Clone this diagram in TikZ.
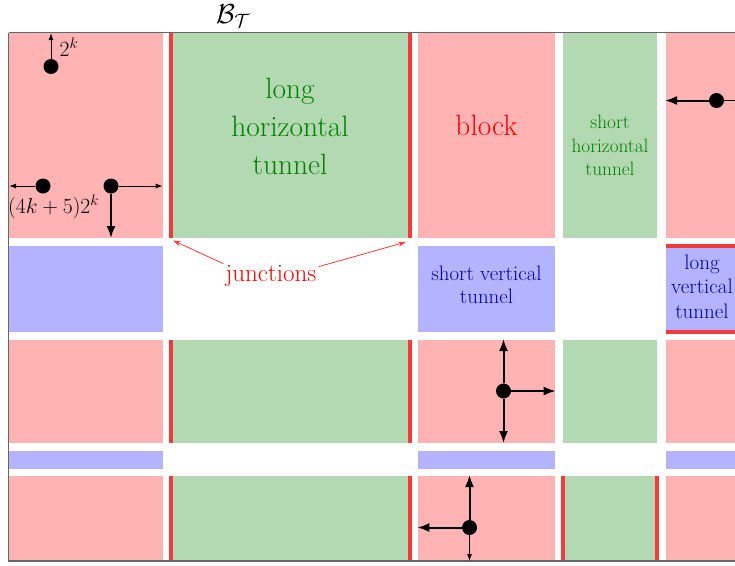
\RequirePackage{fix-cm}
\documentclass[tikz,border=0pt]{standalone}
\usetikzlibrary{arrows.meta}

\definecolor{blockfill}{RGB}{255,179,179}
\definecolor{htunfill}{RGB}{179,217,179}
\definecolor{vtunfill}{RGB}{179,179,255}
\definecolor{htuntext}{RGB}{0,128,0}
\definecolor{vtuntext}{RGB}{0,0,178}
\definecolor{juncred}{RGB}{240,60,60}

\tikzset{
  blockcell/.style={fill=blockfill},
  htuncell/.style={fill=htunfill},
  vtuncell/.style={fill=vtunfill},
  juncline/.style={fill=juncred},
  frameline/.style={draw=black!60, line width=1.2pt},
  htunlabel/.style={text=htuntext, align=center, inner sep=0pt},
  vtunlabel/.style={text=vtuntext, align=center, inner sep=0pt},
  redlabel/.style={text=red, inner sep=0pt},
  mathlabel/.style={inner sep=0pt, font=\fontsize{21.7}{26}\selectfont},
  dot/.style={circle, fill=black, inner sep=0pt, minimum size=15pt},
  thinarrow/.style={line width=1pt, -{Latex[length=7pt,width=5pt]}},
  thickarrow/.style={line width=2pt, -{Latex[length=12pt,width=9pt]}},
  juncarrow/.style={draw=juncred, line width=0.8pt, -{Stealth[length=8pt,width=5pt]}},
}

\begin{document}
\begin{tikzpicture}[x=1pt,y=-1pt]
\clip (0,0) rectangle (735,565);

% blocks
\foreach \xa/\xb in {8.5/163, 418/555, 665.5/800}{
  \foreach \ya/\yb in {32.5/238, 340/443, 476/561}{
    \fill[blockcell] (\xa,\ya) rectangle (\xb,\yb);
  }
}
% horizontal tunnels
\foreach \xa/\xb in {171/410, 563/657}{
  \foreach \ya/\yb in {32.5/238, 340/443, 476/561}{
    \fill[htuncell] (\xa,\ya) rectangle (\xb,\yb);
  }
}
% vertical tunnels
\foreach \xa/\xb in {8.5/163, 418/555, 665.5/800}{
  \foreach \ya/\yb in {246/332, 451/469}{
    \fill[vtuncell] (\xa,\ya) rectangle (\xb,\yb);
  }
}

% junctions of the long tunnels
\foreach \ya/\yb in {32.5/238, 340/443, 476/561}{
  \fill[juncline] (169,\ya) rectangle (173,\yb);
  \fill[juncline] (408,\ya) rectangle (412,\yb);
}
\fill[juncline] (561,476) rectangle (565,561);
\fill[juncline] (655,476) rectangle (659,561);
\fill[juncline] (665.5,244) rectangle (800,248);
\fill[juncline] (665.5,330) rectangle (800,334);

% frame of the region
\draw[frameline] (8.5,32.5) -- (800,32.5);
\draw[frameline] (8.5,32.5) -- (8.5,561) -- (800,561);

% labels
\node[anchor=base west, inner sep=0pt, font=\fontsize{27.5}{33}\selectfont] (BT) at (216,23) {$\mathcal{B}_\mathcal{T}$};
\node[htunlabel, font=\fontsize{29.4}{38}\selectfont] (lht) at (290,126) {long\\horizontal\\tunnel};
\node[redlabel, anchor=base, font=\fontsize{29.4}{35}\selectfont] (blk) at (486.5,135) {block};
\node[htunlabel, font=\fontsize{19.3}{23.3}\selectfont] (sht) at (610,145.6) {short\\horizontal\\tunnel};
\node[vtunlabel, font=\fontsize{20.9}{23.3}\selectfont] (svt) at (486.5,285.1) {short vertical\\tunnel};
\node[vtunlabel, font=\fontsize{21}{24.5}\selectfont] (lvt) at (702,286.5) {long\\vertical\\tunnel};
\node[redlabel, anchor=base, inner sep=2pt, font=\fontsize{25}{30}\selectfont] (junc) at (271,281) {junctions};

\coordinate (jl) at (173,240.5);
\coordinate (jr) at (406,242);
\draw[juncarrow] ([yshift=-1pt]junc.north west) -- (jl);
\draw[juncarrow] ([yshift=-4pt]junc.north east) -- (jr);

% walkers and their moves
\node[dot] (d1) at (51,66.5) {};
\node[dot] (d2) at (43,186) {};
\node[dot] (d3) at (111,186) {};
\node[dot] (d4) at (716.5,100.5) {};
\node[dot] (d5) at (503.5,391) {};
\node[dot] (d6) at (469.5,527.5) {};

\coordinate (d1u) at (51,33);
\coordinate (d2l) at (9,186);
\coordinate (d3r) at (162.7,186);
\coordinate (d3d) at (111,238);
\coordinate (d4l) at (665,100.5);
\coordinate (d4r) at (780,100.5);
\coordinate (d5u) at (503.5,339);
\coordinate (d5d) at (503.5,443);
\coordinate (d5r) at (555.7,391);
\coordinate (d6u) at (469.5,475);
\coordinate (d6l) at (417.3,527.5);
\coordinate (d6d) at (469.5,561);

\draw[thinarrow] (d1) -- (d1u);
\draw[thinarrow] (d2) -- (d2l);
\draw[thinarrow] (d3) -- (d3r);
\draw[thickarrow] (d3) -- (d3d);
\draw[thickarrow] (d4) -- (d4l);
\draw[thinarrow] (d4) -- (d4r);
\draw[thickarrow] (d5) -- (d5u);
\draw[thickarrow] (d5) -- (d5d);
\draw[thickarrow] (d5) -- (d5r);
\draw[thickarrow] (d6) -- (d6u);
\draw[thickarrow] (d6) -- (d6l);
\draw[thinarrow] (d6) -- (d6d);

\node[mathlabel, anchor=base west] (lab2k) at (59.5,56.7) {$2^k$};
\node[mathlabel, anchor=base west] (labw) at (8,213.5) {$(4k+5)2^k$};
\end{tikzpicture}
\end{document}
